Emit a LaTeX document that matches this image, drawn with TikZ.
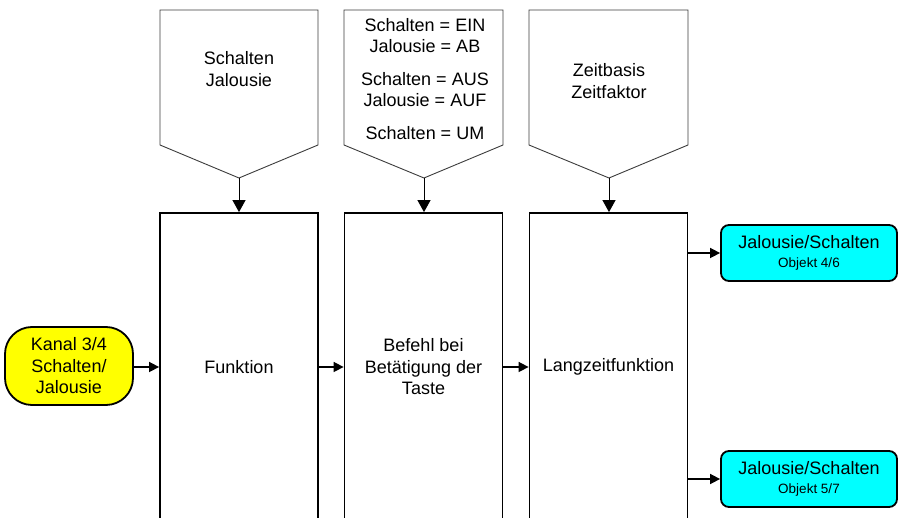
\documentclass[tikz,border=0pt]{standalone}
\usepackage{fontspec}
\setmainfont{Liberation Sans}
\usetikzlibrary{arrows.meta}
\definecolor{termyellow}{RGB}{255,255,0}
\definecolor{outcyan}{RGB}{0,255,255}
\definecolor{paramgray}{RGB}{60,60,60}
\begin{document}
\begin{tikzpicture}[x=1pt,y=-1pt,
  txt/.style={font=\fontsize{18}{21.5}\selectfont, align=center, inner sep=0pt},
  funcbox/.style={draw, line width=1.8pt, minimum width=158pt, minimum height=308pt,
    inner sep=0pt, font=\fontsize{18}{21.5}\selectfont, align=center},
  param/.style={draw=paramgray, line width=0.9pt, fill=white},
  terminal/.style={draw, line width=1.8pt, fill=termyellow, rounded corners=27pt,
    minimum width=128pt, minimum height=78pt, inner sep=0pt,
    font=\fontsize{18}{21.5}\selectfont, align=center},
  outbox/.style={draw, line width=1.8pt, fill=outcyan, rounded corners=8pt,
    minimum width=176pt, minimum height=56pt, inner sep=0pt, align=center,
    font=\fontsize{18}{20}\selectfont},
  objsize/.style={},
  flow/.style={line width=1.6pt, -{Triangle[length=10pt,width=10pt]}},
  feed/.style={line width=1pt, -{Triangle[length=12pt,width=13pt]}}
]
\useasboundingbox (0,0) rectangle (898,518);

% parameter pentagons
\draw[param] (160,10) -- (318,10) -- (318,145) -- (239,178) -- (160,145) -- cycle;
\coordinate (tipA) at (239,178);
\node[txt] (parA) at (239,69) {Schalten\\Jalousie};

\draw[param] (344,10) -- (503,10) -- (503,145) -- (424,178) -- (344,145) -- cycle;
\coordinate (tipB) at (424,178);
\node[txt] (parB) at (425,79) {Schalten = EIN\\Jalousie = AB\\[11pt]Schalten = AUS\\Jalousie = AUF\\[11pt]Schalten = UM};

\draw[param] (529,10) -- (688,10) -- (688,145) -- (609,178) -- (529,145) -- cycle;
\coordinate (tipC) at (609,178);
\node[txt] (parC) at (609,81) {Zeitbasis\\Zeitfaktor};

% function blocks
\node[funcbox] (fA) at (239,367) {Funktion};
\node[funcbox] (fB) at (423.5,367) {Befehl bei\\Betätigung der\\Taste};
\node[funcbox] (fC) at (608.5,367) {Langzeitfunktion};

% input terminal
\node[terminal] (kanal) at (69,366) {Kanal 3/4\\Schalten/\\Jalousie};

% output objects
\node[outbox] (outA) at (809,253) {Jalousie/Schalten\\[-1pt]{\fontsize{13.5}{16}\selectfont Objekt 4/6}};
\node[outbox] (outB) at (809,479) {Jalousie/Schalten\\[-1pt]{\fontsize{13.5}{16}\selectfont Objekt 5/7}};

% connectors
\draw[feed] (tipA) -- (fA.north);
\draw[feed] (tipB) -- (tipB |- fB.north);
\draw[feed] (tipC) -- (tipC |- fC.north);
\draw[flow] (kanal.east |- fA.west) -- (fA.west);
\draw[flow] (fA.east) -- (fB.west);
\draw[flow] (fB.east) -- (fC.west);
\draw[flow] (fC.east |- outA.west) -- (outA.west);
\draw[flow] (fC.east |- outB.west) -- (outB.west);
\end{tikzpicture}
\end{document}
